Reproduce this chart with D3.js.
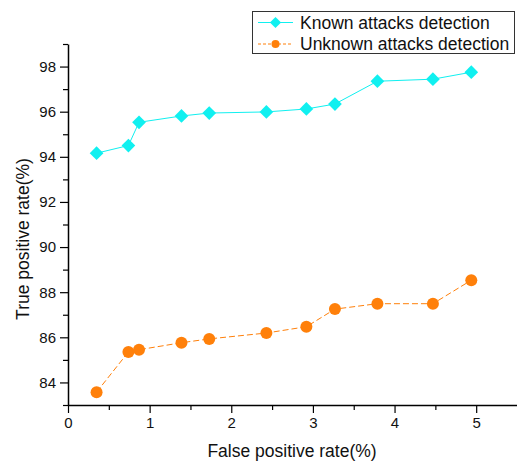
<!DOCTYPE html>
<html>
<head>
<meta charset="utf-8">
<script src="https://cdn.jsdelivr.net/npm/d3@7"></script>
<style>
  body { margin: 0; background: #fff; }
  svg { display: block; font-family: "Liberation Sans", Arial, sans-serif; }
</style>
</head>
<body>
<div id="app"></div>
<script>
const fpr = [0.35, 0.74, 0.87, 1.39, 1.73, 2.43, 2.92, 3.27, 3.79, 4.47, 4.94];
const knownTpr = [94.16, 94.5, 95.53, 95.81, 95.94, 95.99, 96.12, 96.34, 97.35, 97.44, 97.75];
const unknownTpr = [83.57, 85.35, 85.45, 85.76, 85.93, 86.19, 86.47, 87.25, 87.49, 87.49, 88.53];
const xTicks = [0, 1, 2, 3, 4, 5];
const yTicks = [84, 86, 88, 90, 92, 94, 96, 98];
const seriesNames = ["Known attacks detection", "Unknown attacks detection"];

const width = 517;
const height = 462;
const margin = { top: 44, right: 0, bottom: 57, left: 68 };

const cyan = "#10f0f0";
const orange = "#ff800a";

const svg = d3.select("#app").append("svg")
  .attr("width", width)
  .attr("height", height);

const x = d3.scaleLinear().domain([0, 5.5]).range([margin.left, width - margin.right]);
const y = d3.scaleLinear().domain([83, 99]).range([height - margin.bottom, margin.top]);

// minor ticks
svg.append("g")
  .attr("transform", `translate(0,${height - margin.bottom})`)
  .call(d3.axisBottom(x).tickValues(d3.range(0.5, 5.5, 1)).tickSize(5).tickFormat(""))
  .call(g => g.select(".domain").remove());
svg.append("g")
  .attr("transform", `translate(${margin.left},0)`)
  .call(d3.axisLeft(y).tickValues(d3.range(83, 100, 2)).tickSize(5).tickFormat(""))
  .call(g => g.select(".domain").remove());

svg.append("g")
  .attr("transform", `translate(0,${height - margin.bottom})`)
  .call(d3.axisBottom(x).tickValues(xTicks).tickFormat(d3.format("d"))
    .tickSize(8).tickSizeOuter(0).tickPadding(4));

svg.append("g")
  .attr("transform", `translate(${margin.left},0)`)
  .call(d3.axisLeft(y).tickValues(yTicks).tickFormat(d3.format("d"))
    .tickSize(8).tickSizeOuter(0).tickPadding(4));

svg.selectAll(".domain").attr("stroke", "#000").attr("stroke-width", 1.5);
svg.selectAll(".tick line").attr("stroke", "#000").attr("stroke-width", 1.2);
svg.selectAll(".tick text").attr("font-size", 15).attr("fill", "#111")
  .attr("font-family", "Liberation Sans, Arial, sans-serif");

svg.append("text")
  .attr("x", 292).attr("y", 457)
  .attr("text-anchor", "middle")
  .attr("font-size", 17.5)
  .attr("fill", "#111")
  .text("False positive rate(%)");

svg.append("text")
  .attr("transform", "translate(29,239) rotate(-90)")
  .attr("text-anchor", "middle")
  .attr("font-size", 17.5)
  .attr("fill", "#111")
  .text("True positive rate(%)");

const line = d3.line().x(d => x(d[0])).y(d => y(d[1]));
const known = fpr.map((v, i) => [v, knownTpr[i]]);
const unknown = fpr.map((v, i) => [v, unknownTpr[i]]);

svg.append("path")
  .datum(known)
  .attr("fill", "none")
  .attr("stroke", cyan)
  .attr("stroke-width", 1)
  .attr("d", line);

svg.append("path")
  .datum(unknown)
  .attr("fill", "none")
  .attr("stroke", orange)
  .attr("stroke-width", 1)
  .attr("stroke-dasharray", "6,3")
  .attr("d", line);

const diamond = d3.symbol().type(d3.symbolDiamond2).size(120);
svg.append("g").selectAll("path")
  .data(known)
  .join("path")
  .attr("transform", d => `translate(${x(d[0])},${y(d[1])})`)
  .attr("d", diamond)
  .attr("fill", cyan);

svg.append("g").selectAll("circle")
  .data(unknown)
  .join("circle")
  .attr("cx", d => x(d[0]))
  .attr("cy", d => y(d[1]))
  .attr("r", 6)
  .attr("fill", orange);

// legend
const legend = svg.append("g");
legend.append("rect")
  .attr("x", 252.5).attr("y", 11.5)
  .attr("width", 262).attr("height", 42)
  .attr("fill", "#fff")
  .attr("stroke", "#333")
  .attr("stroke-width", 1);

seriesNames.forEach((name, i) => {
  const ly = 22.5 + i * 21.5;
  legend.append("line")
    .attr("x1", 258).attr("x2", 293)
    .attr("y1", ly).attr("y2", ly)
    .attr("stroke", i === 0 ? cyan : orange)
    .attr("stroke-width", 1)
    .attr("stroke-dasharray", i === 0 ? null : "3,2");
  if (i === 0) {
    legend.append("path")
      .attr("transform", `translate(275.5,${ly})`)
      .attr("d", d3.symbol().type(d3.symbolDiamond2).size(80))
      .attr("fill", cyan);
  } else {
    legend.append("circle")
      .attr("cx", 275.5).attr("cy", ly).attr("r", 4)
      .attr("fill", orange);
  }
  legend.append("text")
    .attr("x", 300).attr("y", ly)
    .attr("dy", "0.35em")
    .attr("font-size", 17.5)
    .attr("fill", "#111")
    .text(name);
});
</script>
</body>
</html>
